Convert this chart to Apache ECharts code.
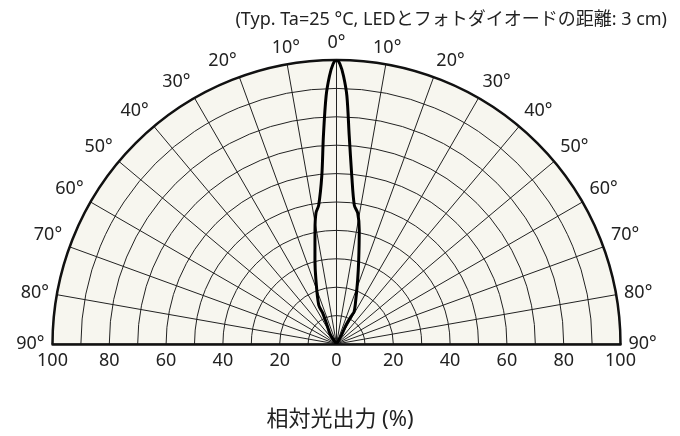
<!DOCTYPE html>
<html>
<head>
<meta charset="utf-8">
<script src="https://cdn.jsdelivr.net/npm/echarts@6/dist/echarts.min.js"></script>
<style>html,body{margin:0;padding:0;background:#fff}#c{width:680px;height:436px}</style>
</head>
<body>
<div id="c"></div>
<script>
// Angle (deg, negative = left) and relative output (%)
var angles = [-40, -33.7, -26.6, -24, -24.5, -17.8, -14.4, -10.7, -8.9, -7.3, -5.0, -3.6, -2.4, -1.5, -0.7, 0, 0.7, 1.5, 2.4, 3.5, 5.2, 7.3, 9.2, 11.3, 14.8, 18.3, 25.7, 28.7, 28.1, 26.6, 29, 40];
var output = [0, 3.8, 7.5, 11.9, 15.1, 23.7, 30.5, 40.8, 46.7, 49.3, 59.4, 73.4, 87.4, 94.4, 98.6, 100, 98.6, 94.4, 87.4, 73.4, 59.4, 49.3, 46.7, 40.9, 30.6, 23.7, 15.2, 12.8, 11.6, 7.5, 3.6, 0];
var angleTicks = [-90, 90, 10];   // min, max, step
var radiusTicks = [0, 100, 10];
var radialTicks = [-100, 100, 20]; // bottom axis
var subtitle = '(Typ. Ta=25 °C, LEDとフォトダイオードの距離: 3 cm)';
var xName = '相対光出力 (%)';

var FONT = '"Noto Sans", "Noto Sans CJK JP", sans-serif';
var seriesData = angles.map(function (a, i) { return [output[i], a]; });
var CX = 336.5, CY = 344, R = 284;

var chart = echarts.init(document.getElementById('c'));
chart.setOption({
  animation: false,
  backgroundColor: '#fff',
  textStyle: { fontFamily: FONT },
  title: [
    { z: 10, text: subtitle, right: 8, top: 6, textStyle: { fontFamily: FONT, fontSize: 18, fontWeight: 'normal', color: '#222' } },
    { z: 10, text: xName, left: 'center', top: 404, textStyle: { fontFamily: FONT, fontSize: 22, fontWeight: 'normal', color: '#222' } }
  ],
  polar: [
    { center: [CX, CY], radius: R },
    { center: [CX, CY], radius: R }
  ],
  angleAxis: [
    { // background fill layer
      polarIndex: 0, z: 0,
      type: 'value', min: angleTicks[0], max: angleTicks[1], interval: angleTicks[2],
      startAngle: 180, endAngle: 0, clockwise: true,
      axisLine: { show: false }, axisTick: { show: false }, axisLabel: { show: false },
      splitLine: { show: false },
      splitArea: { show: true, areaStyle: { color: ['#f7f6ef'] } }
    },
    { // grid lines, outer arc and labels
      polarIndex: 1, z: 2,
      type: 'value', min: angleTicks[0], max: angleTicks[1], interval: angleTicks[2],
      startAngle: 180, endAngle: 0, clockwise: true,
      axisLine: { show: true, lineStyle: { color: '#111', width: 2.5 } },
      axisTick: { show: false },
      axisLabel: { show: true, margin: 8, fontSize: 18, color: '#222', fontFamily: FONT,
        formatter: function (v) { return Math.abs(v) + '°'; } },
      splitLine: { show: true, lineStyle: { color: '#222', width: 1 } }
    }
  ],
  radiusAxis: [
    { polarIndex: 0, z: 0, type: 'value', min: radiusTicks[0], max: radiusTicks[1], interval: radiusTicks[2],
      axisLine: { show: false }, axisTick: { show: false }, axisLabel: { show: false }, splitLine: { show: false } },
    { polarIndex: 1, z: 2, type: 'value', min: radiusTicks[0], max: radiusTicks[1], interval: radiusTicks[2],
      axisLine: { show: false }, axisTick: { show: false }, axisLabel: { show: false },
      splitLine: { show: true, lineStyle: { color: '#222', width: 1 } } }
  ],
  graphic: [{
    type: 'rect', z: 3, silent: true,
    shape: { x: CX - R - 3, y: CY + 1.3, width: 2 * R + 6, height: 436 - CY },
    style: { fill: '#fff' }
  }],
  grid: { left: CX - R, right: 680 - CX - R, top: CY - R, bottom: 436 - CY },
  xAxis: {
    z: 4,
    type: 'value', min: radialTicks[0], max: radialTicks[1], interval: radialTicks[2],
    position: 'bottom',
    axisLine: { show: true, lineStyle: { color: '#111', width: 2.5 } },
    axisTick: { show: false }, splitLine: { show: false },
    axisLabel: { margin: 8, fontSize: 18, color: '#222', fontFamily: FONT,
      formatter: function (v) { return Math.abs(v); } }
  },
  yAxis: { type: 'value', show: false, min: 0, max: 1 },
  series: [{
    type: 'line', coordinateSystem: 'polar', polarIndex: 1, data: seriesData,
    showSymbol: false, smooth: 0.3,
    lineStyle: { color: '#000', width: 3 }, z: 5
  }]
});
</script>
</body>
</html>
